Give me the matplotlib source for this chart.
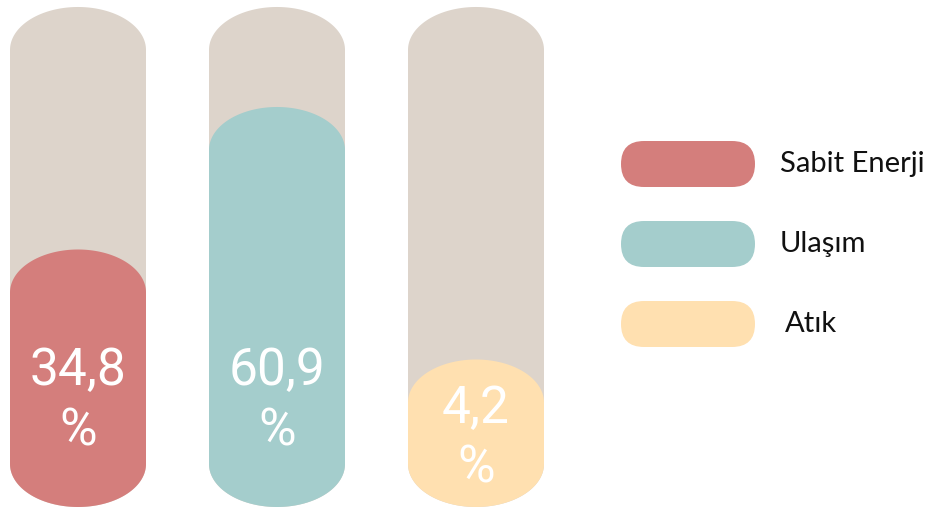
import numpy as np
import matplotlib
matplotlib.use("Agg")
import matplotlib.pyplot as plt
from matplotlib.patches import Polygon, FancyBboxPatch

# ---- data ----
categories = ["Sabit Enerji", "Ulaşım", "Atık"]
values = [34.8, 60.9, 4.2]              # shown percentages
fill_levels = [51.5, 80.0, 29.5]        # visual fill height (% of tube) as drawn in the infographic
colors = ["#D47E7C", "#A4CDCC", "#FFE0B0"]
track_color = "#DDD4CB"

W, H = 938, 508
fig = plt.figure(figsize=(W / 100, H / 100), dpi=100)

# bars axes: x = category index, y = percent of tube
ax = fig.add_axes([0, 0, 1, 1])
px_per_x = 199.0
px_per_y = 5.01
x0_px = 78.0
ax.set_xlim(-x0_px / px_per_x, (W - x0_px) / px_per_x)
ax.set_ylim(-0.2, 100 + 7 / px_per_y)
ax.axis("off")

half_w = 68 / px_per_x
cap_h = 43 / px_per_y


def pill(cx, y0, y1, color, z):
    t_top = np.linspace(0, np.pi, 80)
    t_bot = np.linspace(np.pi, 2 * np.pi, 80)
    top = np.column_stack([cx + half_w * np.cos(t_top), y1 - cap_h + cap_h * np.sin(t_top)])
    bot = np.column_stack([cx + half_w * np.cos(t_bot), y0 + cap_h + cap_h * np.sin(t_bot)])
    pts = np.vstack([top, bot])
    ax.add_patch(Polygon(pts, closed=True, facecolor=color, edgecolor="none", zorder=z))


label_num_y = [27.1, 27.1, 19.6]
label_pct_y = [15.0, 15.0, 7.6]
for i, (v, lvl, c) in enumerate(zip(values, fill_levels, colors)):
    pill(i, 0, 100, track_color, 1)
    pill(i, 0, lvl, c, 2)
    txt = f"{v:.1f}".replace(".", ",")
    ax.text(i, label_num_y[i], txt, ha="center", va="center", color="white",
            fontsize=37, family="Roboto", zorder=3)
    ax.text(i, label_pct_y[i], "%", ha="center", va="center", color="white",
            fontsize=37, family="Roboto", zorder=3)

# legend in pixel coordinates
lax = fig.add_axes([0, 0, 1, 1])
lax.set_xlim(0, W)
lax.set_ylim(H, 0)
lax.axis("off")
leg_y = [164, 244, 324]
leg_text_x = [780, 780, 785]
for i, (name, c) in enumerate(zip(categories, colors)):
    lax.add_patch(FancyBboxPatch((621, leg_y[i] - 23), 134, 46,
                                 boxstyle="round,pad=0,rounding_size=23",
                                 facecolor=c, edgecolor="none"))
    lax.text(leg_text_x[i], leg_y[i], name, ha="left", va="center", color="#111111",
             fontsize=21, family="Lato")

fig.savefig("out.png", dpi=100)
